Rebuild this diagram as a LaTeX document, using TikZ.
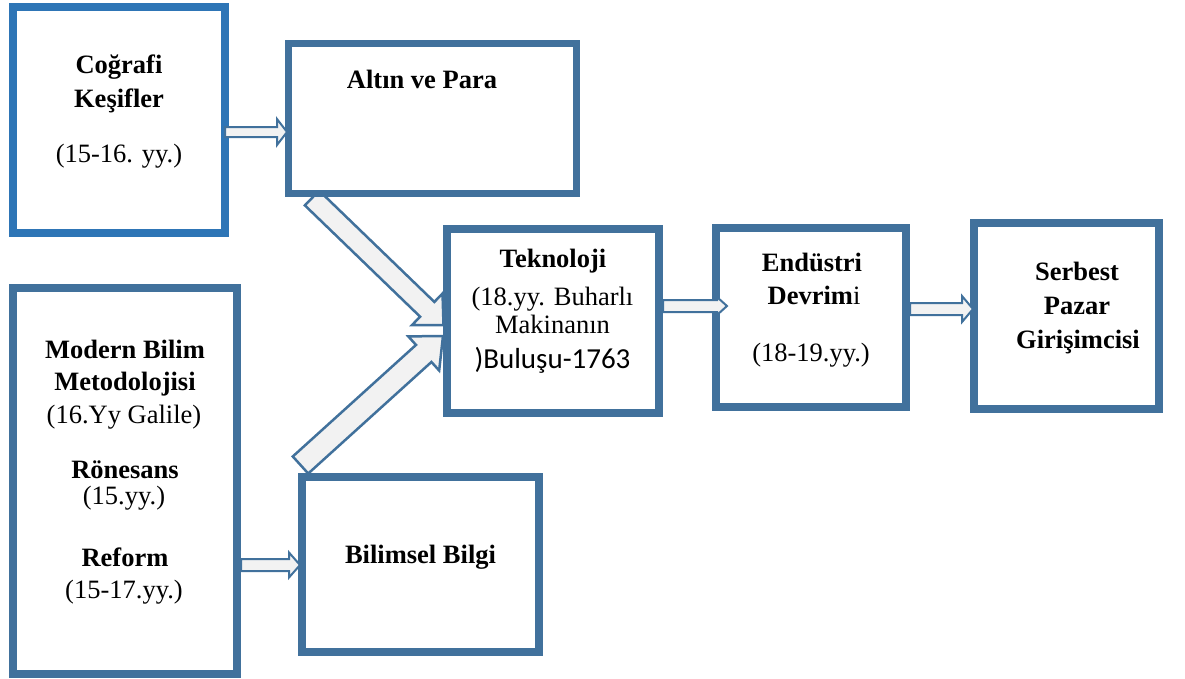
\documentclass[tikz,border=0pt]{standalone}
\usepackage{fontspec}
\setmainfont{Liberation Serif}
\newfontfamily\calibrifont{Carlito}
\usetikzlibrary{calc,backgrounds}
\definecolor{boxblue}{RGB}{65,113,156}
\definecolor{geoblue}{RGB}{46,117,182}
\definecolor{arrowfill}{RGB}{242,242,242}

% block arrow: [style] tail, tip, shaft half width, head half width, head length
\newcommand{\blockarrow}[6][]{%
  \coordinate (ba-t) at (#2);
  \coordinate (ba-p) at (#3);
  \coordinate (ba-h) at ($(ba-p)!#6pt!(ba-t)$);
  \filldraw[fatarrow,#1] ($(ba-t)!#4pt!90:(ba-p)$) -- ($(ba-h)!#4pt!90:(ba-p)$)
    -- ($(ba-h)!#5pt!90:(ba-p)$) -- (ba-p) -- ($(ba-h)!#5pt!-90:(ba-p)$)
    -- ($(ba-h)!#4pt!-90:(ba-p)$) -- ($(ba-t)!#4pt!-90:(ba-p)$) -- cycle;}

\begin{document}
\begin{tikzpicture}[line cap=butt,line join=miter,x=1pt,y=-1pt,
    box/.style={draw=boxblue,fill=white,line width=8pt,inner sep=0pt},
    fatarrow/.style={draw=boxblue,fill=arrowfill,line width=2.5pt},
    thinarrow/.style={line width=2pt},
    txt/.style={inner sep=0pt,anchor=base,font=\fontsize{26.5}{30}\selectfont},
    btxt/.style={txt,font=\fontsize{26.5}{30}\selectfont\bfseries}]
  \useasboundingbox (0,0) rectangle (1185,678);
  % boxes
  \node[box,draw=geoblue,minimum width=212pt,minimum height=226pt] (geo) at (119,120) {};
  \node[box,line width=7pt,minimum width=288pt,minimum height=150pt] (altin) at (432.5,118.5) {};
  \node[box,minimum width=212pt,minimum height=184pt] (tek) at (553,321) {};
  \node[box,minimum width=190pt,minimum height=179pt] (endu) at (811,317.5) {};
  \node[box,minimum width=185pt,minimum height=186pt] (serb) at (1066.5,316) {};
  \node[box,minimum width=224pt,minimum height=386pt] (modern) at (125,481) {};
  \node[box,minimum width=237pt,minimum height=175pt] (bilgi) at (420.5,564.5) {};
  % big arrows into Teknoloji
  \begin{pgfonlayer}{background}
    \blockarrow{$(altin.south west)+(27,1)$}{$(tek.west)+(0.5,4)$}{10.25}{22}{22.6}
    \blockarrow{$(bilgi.north west)+(2.5,-8)$}{$(tek.west)+(0,15)$}{11.5}{23}{26}
  \end{pgfonlayer}
  % small arrows
  \blockarrow[thinarrow]{$(geo.east)+(-4,12)$}{$(altin.west)+(2,13.5)$}{5}{13}{10}
  \blockarrow[thinarrow]{$(tek.east)+(0,-15)$}{$(endu.west)+(15,-11.5)$}{6}{9}{10}
  \blockarrow[thinarrow]{$(endu.east)+(0,-8.5)$}{$(serb.west)+(3,-7)$}{6}{13}{11}
  \blockarrow[thinarrow]{$(modern.east)+(0,84)$}{$(bilgi.west)+(2,0.5)$}{6}{12.5}{11}
  % texts
  \node[btxt] (geo-1) at (119,73) {Coğrafi};
  \node[btxt] (geo-2) at (119,107) {Keşifler};
  \node[txt] (geo-3) at (119,162) {(15-16. yy.)};
  \node[btxt] (altin-1) at (422,88) {Altın ve Para};
  \node[btxt] (tek-1) at (553,267) {Teknoloji};
  \node[txt] (tek-2) at (552.5,305) {(18.yy. Buharlı};
  \node[txt] (tek-3) at (552.5,333) {Makinanın};
  \node[txt,font=\fontsize{29}{32}\calibrifont] (tek-4) at (552.5,368) {)Buluşu-1763};
  \node[btxt] (endu-1) at (812,271) {Endüstri};
  \node[txt] (endu-2) at (814,304) {\textbf{Devrim}i};
  \node[txt] (endu-3) at (811,361) {(18-19.yy.)};
  \node[btxt] (serb-1) at (1077,280) {Serbest};
  \node[btxt] (serb-2) at (1077,314) {Pazar};
  \node[btxt] (serb-3) at (1078,348) {Girişimcisi};
  \node[btxt] (modern-1) at (125,358) {Modern Bilim};
  \node[btxt] (modern-2) at (125,390) {Metodolojisi};
  \node[txt] (modern-3) at (124,423) {(16.Yy Galile)};
  \node[btxt] (modern-4) at (125,478) {Rönesans};
  \node[txt] (modern-5) at (124,504) {(15.yy.)};
  \node[btxt] (modern-6) at (125,566) {Reform};
  \node[txt] (modern-7) at (124,598) {(15-17.yy.)};
  \node[btxt] (bilgi-1) at (420.5,563) {Bilimsel Bilgi};
\end{tikzpicture}
\end{document}
